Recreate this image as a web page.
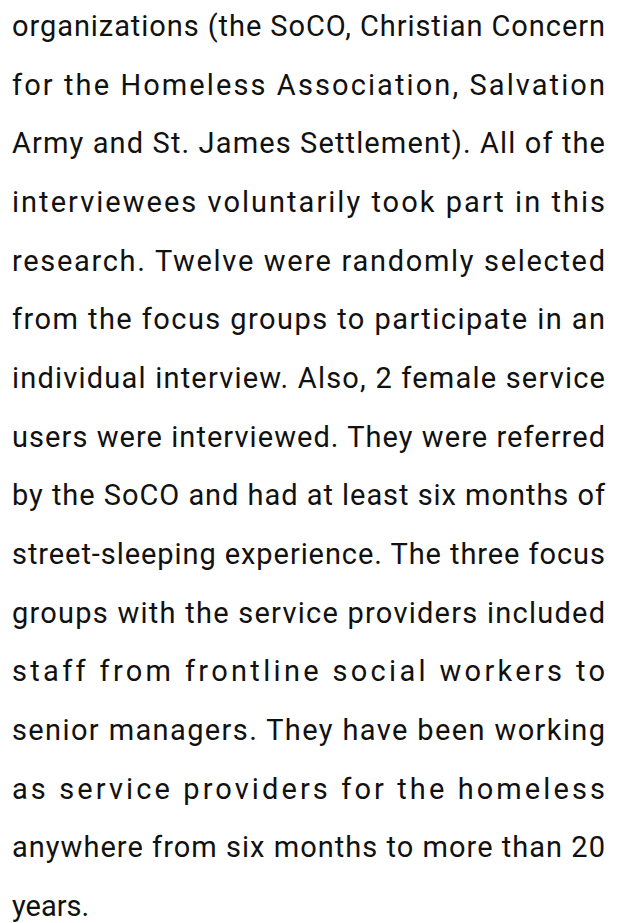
<!DOCTYPE html>
<html>
<head>
<meta charset="utf-8">
<script src="https://cdn.jsdelivr.net/npm/chart.js@4.4.1/dist/chart.umd.min.js"></script>
<style>
    html, body { margin: 0; padding: 0; background: #ffffff; }
    #para {
        position: absolute;
        left: 12px;
        top: -3px;
        width: 593px;
        font-family: Roboto, "Open Sans", sans-serif;
        font-size: 29px;
        color: #111111;
    }
    .line { height: 58.67px; line-height: 58.67px; white-space: nowrap; }
    .line span { display: inline-block; }
</style>
</head>
<body>
<div id="para"></div>
<script>
// Text lines, exactly as they break in the picture
const lines = [
    'organizations (the SoCO, Christian Concern',
    'for the Homeless Association, Salvation',
    'Army and St. James Settlement). All of the',
    'interviewees voluntarily took part in this',
    'research. Twelve were randomly selected',
    'from the focus groups to participate in an',
    'individual interview. Also, 2 female service',
    'users were interviewed. They were referred',
    'by the SoCO and had at least six months of',
    'street-sleeping experience. The three focus',
    'groups with the service providers included',
    'staff from frontline social workers to',
    'senior managers. They have been working',
    'as service providers for the homeless',
    'anywhere from six months to more than 20',
    'years.'
];

const paraWidth = 593;

function buildParagraph() {
    const para = document.getElementById('para');
    para.innerHTML = '';

    lines.forEach((text, i) => {
        const row = document.createElement('div');
        row.className = 'line';
        const span = document.createElement('span');
        span.textContent = text;
        row.appendChild(span);
        para.appendChild(row);

        // Justify every line but the last by spreading the extra room between characters
        if (i < lines.length - 1) {
            const natural = span.getBoundingClientRect().width;
            const spacing = (paraWidth - natural) / (text.length - 1);
            span.style.letterSpacing = spacing + 'px';
        }
    });
}

document.fonts.ready.then(buildParagraph);
</script>
</body>
</html>
